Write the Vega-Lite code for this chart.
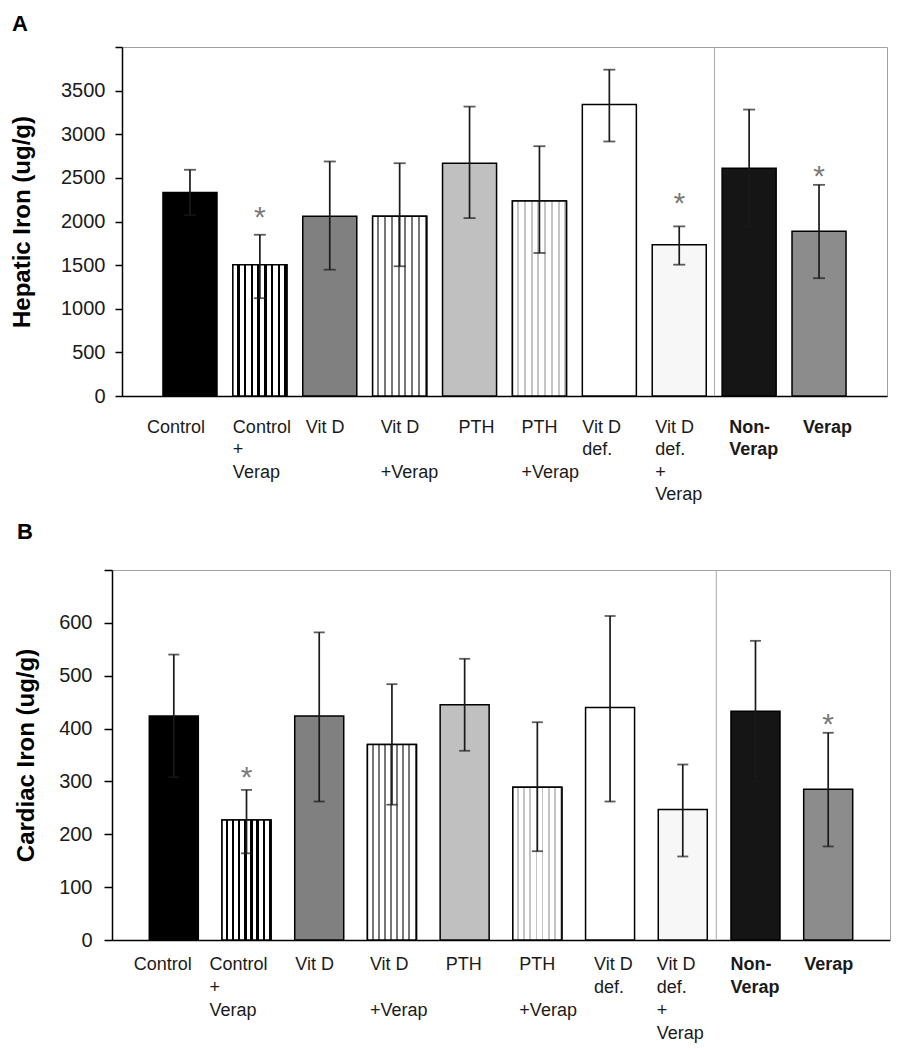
{
  "$schema": "https://vega.github.io/schema/vega-lite/v6.json",
  "padding": {"top": 12, "left": 10, "right": 5, "bottom": 5},
  "config": {
    "font": "Liberation Sans",
    "view": {"stroke": "#a0a0a0", "strokeWidth": 1},
    "axis": {"grid": false, "domainColor": "black", "domainWidth": 1.5, "tickColor": "black", "tickWidth": 1.5, "labelColor": "#1a1a1a", "titleColor": "black", "labelFont": "Liberation Sans", "titleFont": "Liberation Sans"}
  },
  "datasets": {
    "hep": [
      {"g": "Control", "v": 2333, "lo": 2073, "hi": 2593},
      {"g": "Control|+|Verap", "v": 1505, "lo": 1121, "hi": 1848, "star": 2134},
      {"g": "Vit D", "v": 2059, "lo": 1448, "hi": 2688},
      {"g": "Vit D||+Verap", "v": 2059, "lo": 1487, "hi": 2668},
      {"g": "PTH", "v": 2668, "lo": 2039, "hi": 3317},
      {"g": "PTH||+Verap", "v": 2234, "lo": 1639, "hi": 2863},
      {"g": "Vit D|def.", "v": 3340, "lo": 2917, "hi": 3740},
      {"g": "Vit D|def.|+|Verap", "v": 1734, "lo": 1505, "hi": 1944, "star": 2294},
      {"g": "Non-|Verap", "v": 2611, "lo": 1940, "hi": 3283},
      {"g": "Verap", "v": 1887, "lo": 1350, "hi": 2420, "star": 2600}
    ],
    "car": [
      {"g": "Control", "v": 424, "lo": 308, "hi": 540},
      {"g": "Control|+|Verap", "v": 227, "lo": 164, "hi": 284, "star": 321},
      {"g": "Vit D", "v": 424, "lo": 262, "hi": 582},
      {"g": "Vit D||+Verap", "v": 370, "lo": 256, "hi": 484},
      {"g": "PTH", "v": 445, "lo": 358, "hi": 532},
      {"g": "PTH||+Verap", "v": 289, "lo": 168, "hi": 412},
      {"g": "Vit D|def.", "v": 440, "lo": 262, "hi": 613},
      {"g": "Vit D|def.|+|Verap", "v": 247, "lo": 158, "hi": 332},
      {"g": "Non-|Verap", "v": 433, "lo": 300, "hi": 566},
      {"g": "Verap", "v": 285, "lo": 177, "hi": 392, "star": 422}
    ]
  },
  "columns": 1,
  "spacing": 17,
  "concat": [
    {
      "width": 765,
      "height": 349,
      "title": {"text": "A", "anchor": "start", "frame": "group", "dx": -110, "offset": 10, "fontSize": 22, "fontWeight": "bold", "color": "black"},
      "data": {"name": "hep"},
      "layer": [
        {
          "mark": {"type": "bar", "stroke": "black", "strokeWidth": 1.5},
          "encoding": {
            "x": {
              "field": "g", "type": "nominal", "sort": null, "title": null,
              "scale": {"domain": ["Control", "Control|+|Verap", "Vit D", "Vit D||+Verap", "PTH", "PTH||+Verap", "Vit D|def.", "Vit D|def.|+|Verap", "Non-|Verap", "Verap"], "paddingInner": 0.227, "paddingOuter": 0.586},
              "axis": {
                "ticks": false, "labelAngle": 0, "labelAlign": "left", "labelBaseline": "top", "labelFontSize": 18, "labelLineHeight": 22.5, "labelPadding": 22,
                "labelExpr": "split(replace(datum.label, '||', '|\u200b|'), '|')",
                "labelFontWeight": {"condition": {"test": "datum.value === 'Non-|Verap' || datum.value === 'Verap'", "value": "bold"}, "value": "normal"},
                "labelOffset": {"condition": [
                  {"test": "datum.value === 'Control'", "value": -43},
                  {"test": "datum.value === 'Control|+|Verap'", "value": -27},
                  {"test": "datum.value === 'Vit D'", "value": -24},
                  {"test": "datum.value === 'Vit D||+Verap'", "value": -19},
                  {"test": "datum.value === 'PTH'", "value": -11},
                  {"test": "datum.value === 'PTH||+Verap'", "value": -18},
                  {"test": "datum.value === 'Vit D|def.'", "value": -27},
                  {"test": "datum.value === 'Vit D|def.|+|Verap'", "value": -24},
                  {"test": "datum.value === 'Non-|Verap'", "value": -20}
                ], "value": -16},
                "labelOverlap": false, "labelLimit": 200
              }
            },
            "y": {
              "field": "v", "type": "quantitative", "title": "Hepatic Iron (ug/g)",
              "scale": {"domain": [0, 4000], "nice": false},
              "axis": {"values": [0, 500, 1000, 1500, 2000, 2500, 3000, 3500, 4000], "labelExpr": "datum.value == 4000 ? '' : datum.label", "format": "d", "labelFontSize": 20, "tickSize": 7, "labelPadding": 10, "titleFontSize": 24, "titleFontWeight": "bold", "titlePadding": 26}
            },
            "fill": {
              "field": "g", "type": "nominal", "legend": null,
              "scale": {"domain": ["Control", "Control|+|Verap", "Vit D", "Vit D||+Verap", "PTH", "PTH||+Verap", "Vit D|def.", "Vit D|def.|+|Verap", "Non-|Verap", "Verap"], "range": ["#000000", "#ffffff", "#808080", "#ffffff", "#c0c0c0", "#ffffff", "#ffffff", "#f7f7f7", "#151515", "#8c8c8c"]}
            }
          }
        },
        {
          "transform": [{"filter": "datum.g === 'Control|+|Verap'"}],
          "mark": {"type": "bar", "stroke": "black", "strokeWidth": 1.5, "fill": {"gradient": "linear", "x1": 0, "x2": 1, "y1": 0, "y2": 0, "stops": [
            {"offset": 0, "color": "#ffffff"}, {"offset": 0.0775, "color": "#ffffff"}, {"offset": 0.0775, "color": "#000000"}, {"offset": 0.125, "color": "#000000"},
            {"offset": 0.125, "color": "#ffffff"}, {"offset": 0.2025, "color": "#ffffff"}, {"offset": 0.2025, "color": "#000000"}, {"offset": 0.25, "color": "#000000"},
            {"offset": 0.25, "color": "#ffffff"}, {"offset": 0.3275, "color": "#ffffff"}, {"offset": 0.3275, "color": "#000000"}, {"offset": 0.375, "color": "#000000"},
            {"offset": 0.375, "color": "#ffffff"}, {"offset": 0.4525, "color": "#ffffff"}, {"offset": 0.4525, "color": "#000000"}, {"offset": 0.5, "color": "#000000"},
            {"offset": 0.5, "color": "#ffffff"}, {"offset": 0.5775, "color": "#ffffff"}, {"offset": 0.5775, "color": "#000000"}, {"offset": 0.625, "color": "#000000"},
            {"offset": 0.625, "color": "#ffffff"}, {"offset": 0.7025, "color": "#ffffff"}, {"offset": 0.7025, "color": "#000000"}, {"offset": 0.75, "color": "#000000"},
            {"offset": 0.75, "color": "#ffffff"}, {"offset": 0.8275, "color": "#ffffff"}, {"offset": 0.8275, "color": "#000000"}, {"offset": 0.875, "color": "#000000"},
            {"offset": 0.875, "color": "#ffffff"}, {"offset": 0.9525, "color": "#ffffff"}, {"offset": 0.9525, "color": "#000000"}, {"offset": 1, "color": "#000000"}
          ]}},
          "encoding": {
            "x": {"field": "g", "type": "nominal", "sort": null, "title": null},
            "y": {"field": "v", "type": "quantitative", "title": "Hepatic Iron (ug/g)"}
          }
        },
        {
          "transform": [{"filter": "datum.g === 'Vit D||+Verap'"}],
          "mark": {"type": "bar", "stroke": "black", "strokeWidth": 1.5, "fill": {"gradient": "linear", "x1": 0, "x2": 1, "y1": 0, "y2": 0, "stops": [
            {"offset": 0, "color": "#ffffff"}, {"offset": 0.0875, "color": "#ffffff"}, {"offset": 0.0875, "color": "#777777"}, {"offset": 0.125, "color": "#777777"},
            {"offset": 0.125, "color": "#ffffff"}, {"offset": 0.2125, "color": "#ffffff"}, {"offset": 0.2125, "color": "#777777"}, {"offset": 0.25, "color": "#777777"},
            {"offset": 0.25, "color": "#ffffff"}, {"offset": 0.3375, "color": "#ffffff"}, {"offset": 0.3375, "color": "#777777"}, {"offset": 0.375, "color": "#777777"},
            {"offset": 0.375, "color": "#ffffff"}, {"offset": 0.4625, "color": "#ffffff"}, {"offset": 0.4625, "color": "#777777"}, {"offset": 0.5, "color": "#777777"},
            {"offset": 0.5, "color": "#ffffff"}, {"offset": 0.5875, "color": "#ffffff"}, {"offset": 0.5875, "color": "#777777"}, {"offset": 0.625, "color": "#777777"},
            {"offset": 0.625, "color": "#ffffff"}, {"offset": 0.7125, "color": "#ffffff"}, {"offset": 0.7125, "color": "#777777"}, {"offset": 0.75, "color": "#777777"},
            {"offset": 0.75, "color": "#ffffff"}, {"offset": 0.8375, "color": "#ffffff"}, {"offset": 0.8375, "color": "#777777"}, {"offset": 0.875, "color": "#777777"},
            {"offset": 0.875, "color": "#ffffff"}, {"offset": 0.9625, "color": "#ffffff"}, {"offset": 0.9625, "color": "#777777"}, {"offset": 1, "color": "#777777"}
          ]}},
          "encoding": {
            "x": {"field": "g", "type": "nominal", "sort": null, "title": null},
            "y": {"field": "v", "type": "quantitative", "title": "Hepatic Iron (ug/g)"}
          }
        },
        {
          "transform": [{"filter": "datum.g === 'PTH||+Verap'"}],
          "mark": {"type": "bar", "stroke": "black", "strokeWidth": 1.5, "fill": {"gradient": "linear", "x1": 0, "x2": 1, "y1": 0, "y2": 0, "stops": [
            {"offset": 0, "color": "#ffffff"}, {"offset": 0.0875, "color": "#ffffff"}, {"offset": 0.0875, "color": "#c4c4c4"}, {"offset": 0.125, "color": "#c4c4c4"},
            {"offset": 0.125, "color": "#ffffff"}, {"offset": 0.2125, "color": "#ffffff"}, {"offset": 0.2125, "color": "#c4c4c4"}, {"offset": 0.25, "color": "#c4c4c4"},
            {"offset": 0.25, "color": "#ffffff"}, {"offset": 0.3375, "color": "#ffffff"}, {"offset": 0.3375, "color": "#c4c4c4"}, {"offset": 0.375, "color": "#c4c4c4"},
            {"offset": 0.375, "color": "#ffffff"}, {"offset": 0.4625, "color": "#ffffff"}, {"offset": 0.4625, "color": "#c4c4c4"}, {"offset": 0.5, "color": "#c4c4c4"},
            {"offset": 0.5, "color": "#ffffff"}, {"offset": 0.5875, "color": "#ffffff"}, {"offset": 0.5875, "color": "#c4c4c4"}, {"offset": 0.625, "color": "#c4c4c4"},
            {"offset": 0.625, "color": "#ffffff"}, {"offset": 0.7125, "color": "#ffffff"}, {"offset": 0.7125, "color": "#c4c4c4"}, {"offset": 0.75, "color": "#c4c4c4"},
            {"offset": 0.75, "color": "#ffffff"}, {"offset": 0.8375, "color": "#ffffff"}, {"offset": 0.8375, "color": "#c4c4c4"}, {"offset": 0.875, "color": "#c4c4c4"},
            {"offset": 0.875, "color": "#ffffff"}, {"offset": 0.9625, "color": "#ffffff"}, {"offset": 0.9625, "color": "#c4c4c4"}, {"offset": 1, "color": "#c4c4c4"}
          ]}},
          "encoding": {
            "x": {"field": "g", "type": "nominal", "sort": null, "title": null},
            "y": {"field": "v", "type": "quantitative", "title": "Hepatic Iron (ug/g)"}
          }
        },
        {
          "data": {"values": [{}]},
          "mark": {"type": "rule", "color": "#a8a8a8", "strokeWidth": 1},
          "encoding": {"x": {"datum": "Non-|Verap", "bandPosition": -0.14}}
        },
        {
          "mark": {"type": "rule", "color": "#1a1a1a", "strokeWidth": 1.7},
          "encoding": {
            "x": {"field": "g", "type": "nominal", "sort": null, "title": null},
            "y": {"field": "lo", "type": "quantitative", "title": "Hepatic Iron (ug/g)"},
            "y2": {"field": "hi"}
          }
        },
        {
          "transform": [{"fold": ["lo", "hi"], "as": ["end", "ev"]}],
          "mark": {"type": "tick", "color": "#1a1a1a", "size": 12, "thickness": 1.8},
          "encoding": {
            "x": {"field": "g", "type": "nominal", "sort": null, "title": null},
            "y": {"field": "ev", "type": "quantitative", "title": "Hepatic Iron (ug/g)"}
          }
        },
        {
          "transform": [{"filter": "isValid(datum.star)"}],
          "mark": {"type": "text", "text": "*", "fontSize": 30, "color": "#7a7a7a", "baseline": "alphabetic", "dy": 17},
          "encoding": {
            "x": {"field": "g", "type": "nominal", "sort": null, "title": null},
            "y": {"field": "star", "type": "quantitative", "title": "Hepatic Iron (ug/g)"}
          }
        }
      ]
    },
    {
      "width": 768,
      "height": 370,
      "view": {"stroke": null},
      "title": {"text": "B", "anchor": "start", "frame": "group", "dx": -105, "offset": 25, "fontSize": 22, "fontWeight": "bold", "color": "black"},
      "data": {"name": "car"},
      "resolve": {"axis": {"x": "independent", "y": "independent"}},
      "layer": [
        {
          "mark": {"type": "bar", "stroke": "black", "strokeWidth": 1.5},
          "encoding": {
            "x": {
              "field": "g", "type": "nominal", "sort": null, "title": null,
              "scale": {"domain": ["Control", "Control|+|Verap", "Vit D", "Vit D||+Verap", "PTH", "PTH||+Verap", "Vit D|def.", "Vit D|def.|+|Verap", "Non-|Verap", "Verap"], "range": [-10, 768], "paddingInner": 0.326, "paddingOuter": 0.513},
              "axis": {
                "ticks": false, "labelAngle": 0, "labelAlign": "left", "labelBaseline": "top", "labelFontSize": 18, "labelLineHeight": 23, "labelPadding": 15,
                "labelExpr": "split(replace(datum.label, '||', '|\u200b|'), '|')",
                "labelFontWeight": {"condition": {"test": "datum.value === 'Non-|Verap' || datum.value === 'Verap'", "value": "bold"}, "value": "normal"},
                "labelOffset": {"condition": [
                  {"test": "datum.value === 'Control'", "value": -40},
                  {"test": "datum.value === 'Control|+|Verap'", "value": -37},
                  {"test": "datum.value === 'Vit D'", "value": -24},
                  {"test": "datum.value === 'Vit D||+Verap'", "value": -22},
                  {"test": "datum.value === 'PTH'", "value": -19},
                  {"test": "datum.value === 'PTH||+Verap'", "value": -18},
                  {"test": "datum.value === 'Vit D|def.'", "value": -16},
                  {"test": "datum.value === 'Vit D|def.|+|Verap'", "value": -26},
                  {"test": "datum.value === 'Non-|Verap'", "value": -25}
                ], "value": -24},
                "labelOverlap": false, "labelLimit": 200
              }
            },
            "y": {
              "field": "v", "type": "quantitative", "title": "Cardiac Iron (ug/g)",
              "scale": {"domain": [0, 700], "nice": false},
              "axis": {"offset": 10, "values": [0, 100, 200, 300, 400, 500, 600, 700], "labelExpr": "datum.value == 700 ? '' : datum.label", "format": "d", "labelFontSize": 20, "tickSize": 8, "labelPadding": 12, "titleFontSize": 24, "titleFontWeight": "bold", "titlePadding": 20}
            },
            "fill": {
              "field": "g", "type": "nominal", "legend": null,
              "scale": {"domain": ["Control", "Control|+|Verap", "Vit D", "Vit D||+Verap", "PTH", "PTH||+Verap", "Vit D|def.", "Vit D|def.|+|Verap", "Non-|Verap", "Verap"], "range": ["#000000", "#ffffff", "#808080", "#ffffff", "#c0c0c0", "#ffffff", "#ffffff", "#f7f7f7", "#151515", "#8c8c8c"]}
            }
          }
        },
        {
          "transform": [{"filter": "datum.g === 'Control|+|Verap'"}],
          "mark": {"type": "bar", "stroke": "black", "strokeWidth": 1.5, "fill": {"gradient": "linear", "x1": 0, "x2": 1, "y1": 0, "y2": 0, "stops": [
            {"offset": 0, "color": "#ffffff"}, {"offset": 0.0775, "color": "#ffffff"}, {"offset": 0.0775, "color": "#000000"}, {"offset": 0.125, "color": "#000000"},
            {"offset": 0.125, "color": "#ffffff"}, {"offset": 0.2025, "color": "#ffffff"}, {"offset": 0.2025, "color": "#000000"}, {"offset": 0.25, "color": "#000000"},
            {"offset": 0.25, "color": "#ffffff"}, {"offset": 0.3275, "color": "#ffffff"}, {"offset": 0.3275, "color": "#000000"}, {"offset": 0.375, "color": "#000000"},
            {"offset": 0.375, "color": "#ffffff"}, {"offset": 0.4525, "color": "#ffffff"}, {"offset": 0.4525, "color": "#000000"}, {"offset": 0.5, "color": "#000000"},
            {"offset": 0.5, "color": "#ffffff"}, {"offset": 0.5775, "color": "#ffffff"}, {"offset": 0.5775, "color": "#000000"}, {"offset": 0.625, "color": "#000000"},
            {"offset": 0.625, "color": "#ffffff"}, {"offset": 0.7025, "color": "#ffffff"}, {"offset": 0.7025, "color": "#000000"}, {"offset": 0.75, "color": "#000000"},
            {"offset": 0.75, "color": "#ffffff"}, {"offset": 0.8275, "color": "#ffffff"}, {"offset": 0.8275, "color": "#000000"}, {"offset": 0.875, "color": "#000000"},
            {"offset": 0.875, "color": "#ffffff"}, {"offset": 0.9525, "color": "#ffffff"}, {"offset": 0.9525, "color": "#000000"}, {"offset": 1, "color": "#000000"}
          ]}},
          "encoding": {
            "x": {"field": "g", "type": "nominal", "sort": null, "axis": null},
            "y": {"field": "v", "type": "quantitative", "axis": null}
          }
        },
        {
          "transform": [{"filter": "datum.g === 'Vit D||+Verap'"}],
          "mark": {"type": "bar", "stroke": "black", "strokeWidth": 1.5, "fill": {"gradient": "linear", "x1": 0, "x2": 1, "y1": 0, "y2": 0, "stops": [
            {"offset": 0, "color": "#ffffff"}, {"offset": 0.0875, "color": "#ffffff"}, {"offset": 0.0875, "color": "#777777"}, {"offset": 0.125, "color": "#777777"},
            {"offset": 0.125, "color": "#ffffff"}, {"offset": 0.2125, "color": "#ffffff"}, {"offset": 0.2125, "color": "#777777"}, {"offset": 0.25, "color": "#777777"},
            {"offset": 0.25, "color": "#ffffff"}, {"offset": 0.3375, "color": "#ffffff"}, {"offset": 0.3375, "color": "#777777"}, {"offset": 0.375, "color": "#777777"},
            {"offset": 0.375, "color": "#ffffff"}, {"offset": 0.4625, "color": "#ffffff"}, {"offset": 0.4625, "color": "#777777"}, {"offset": 0.5, "color": "#777777"},
            {"offset": 0.5, "color": "#ffffff"}, {"offset": 0.5875, "color": "#ffffff"}, {"offset": 0.5875, "color": "#777777"}, {"offset": 0.625, "color": "#777777"},
            {"offset": 0.625, "color": "#ffffff"}, {"offset": 0.7125, "color": "#ffffff"}, {"offset": 0.7125, "color": "#777777"}, {"offset": 0.75, "color": "#777777"},
            {"offset": 0.75, "color": "#ffffff"}, {"offset": 0.8375, "color": "#ffffff"}, {"offset": 0.8375, "color": "#777777"}, {"offset": 0.875, "color": "#777777"},
            {"offset": 0.875, "color": "#ffffff"}, {"offset": 0.9625, "color": "#ffffff"}, {"offset": 0.9625, "color": "#777777"}, {"offset": 1, "color": "#777777"}
          ]}},
          "encoding": {
            "x": {"field": "g", "type": "nominal", "sort": null, "axis": null},
            "y": {"field": "v", "type": "quantitative", "axis": null}
          }
        },
        {
          "transform": [{"filter": "datum.g === 'PTH||+Verap'"}],
          "mark": {"type": "bar", "stroke": "black", "strokeWidth": 1.5, "fill": {"gradient": "linear", "x1": 0, "x2": 1, "y1": 0, "y2": 0, "stops": [
            {"offset": 0, "color": "#ffffff"}, {"offset": 0.0875, "color": "#ffffff"}, {"offset": 0.0875, "color": "#c4c4c4"}, {"offset": 0.125, "color": "#c4c4c4"},
            {"offset": 0.125, "color": "#ffffff"}, {"offset": 0.2125, "color": "#ffffff"}, {"offset": 0.2125, "color": "#c4c4c4"}, {"offset": 0.25, "color": "#c4c4c4"},
            {"offset": 0.25, "color": "#ffffff"}, {"offset": 0.3375, "color": "#ffffff"}, {"offset": 0.3375, "color": "#c4c4c4"}, {"offset": 0.375, "color": "#c4c4c4"},
            {"offset": 0.375, "color": "#ffffff"}, {"offset": 0.4625, "color": "#ffffff"}, {"offset": 0.4625, "color": "#c4c4c4"}, {"offset": 0.5, "color": "#c4c4c4"},
            {"offset": 0.5, "color": "#ffffff"}, {"offset": 0.5875, "color": "#ffffff"}, {"offset": 0.5875, "color": "#c4c4c4"}, {"offset": 0.625, "color": "#c4c4c4"},
            {"offset": 0.625, "color": "#ffffff"}, {"offset": 0.7125, "color": "#ffffff"}, {"offset": 0.7125, "color": "#c4c4c4"}, {"offset": 0.75, "color": "#c4c4c4"},
            {"offset": 0.75, "color": "#ffffff"}, {"offset": 0.8375, "color": "#ffffff"}, {"offset": 0.8375, "color": "#c4c4c4"}, {"offset": 0.875, "color": "#c4c4c4"},
            {"offset": 0.875, "color": "#ffffff"}, {"offset": 0.9625, "color": "#ffffff"}, {"offset": 0.9625, "color": "#c4c4c4"}, {"offset": 1, "color": "#c4c4c4"}
          ]}},
          "encoding": {
            "x": {"field": "g", "type": "nominal", "sort": null, "axis": null},
            "y": {"field": "v", "type": "quantitative", "axis": null}
          }
        },
        {
          "data": {"values": [{}]},
          "mark": {"type": "rule", "color": "#a8a8a8", "strokeWidth": 1},
          "encoding": {"x": {"datum": "Non-|Verap", "bandPosition": -0.3, "axis": {"orient": "top", "labels": false, "ticks": false, "domainColor": "#a0a0a0", "domainWidth": 1, "title": null}}}
        },
        {
          "mark": {"type": "rule", "color": "#1a1a1a", "strokeWidth": 1.7},
          "encoding": {
            "x": {"field": "g", "type": "nominal", "sort": null, "axis": null},
            "y": {"field": "lo", "type": "quantitative", "axis": null},
            "y2": {"field": "hi"}
          }
        },
        {
          "transform": [{"fold": ["lo", "hi"], "as": ["end", "ev"]}],
          "mark": {"type": "tick", "color": "#1a1a1a", "size": 11, "thickness": 1.8},
          "encoding": {
            "x": {"field": "g", "type": "nominal", "sort": null, "axis": null},
            "y": {"field": "ev", "type": "quantitative", "axis": {"orient": "right", "labels": false, "ticks": false, "domainColor": "#a0a0a0", "domainWidth": 1, "title": null}}
          }
        },
        {
          "transform": [{"filter": "isValid(datum.star)"}],
          "mark": {"type": "text", "text": "*", "fontSize": 30, "color": "#7a7a7a", "baseline": "alphabetic", "dy": 17},
          "encoding": {
            "x": {"field": "g", "type": "nominal", "sort": null, "axis": null},
            "y": {"field": "star", "type": "quantitative", "axis": null}
          }
        }
      ]
    }
  ]
}
